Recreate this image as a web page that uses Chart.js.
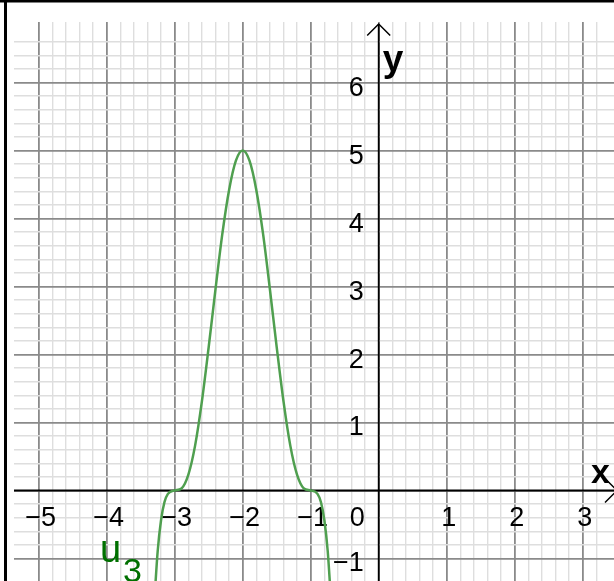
<!DOCTYPE html>
<html>
<head>
<meta charset="utf-8">
<script src="https://cdn.jsdelivr.net/npm/chart.js@4.4.1/dist/chart.umd.min.js"></script>
<style>
  html, body { margin: 0; padding: 0; background: #fff; }
  canvas { display: block; }
</style>
</head>
<body>
<canvas id="graph" width="614" height="581"></canvas>
<script>
// u3 sampled along its hump between the two flat zeros
const xValues = [-3.3, -3.25, -3.2, -3.15, -3.1, -3.0, -2.9, -2.8, -2.7, -2.6, -2.5, -2.4, -2.3, -2.2, -2.1,
                 -2.0, -1.9, -1.8, -1.7, -1.6, -1.5, -1.4, -1.3, -1.2, -1.1, -1.0, -0.9, -0.85, -0.8, -0.75, -0.7];
const u3Values = [-1.64, -0.89, -0.43, -0.17, -0.05, 0, 0.03, 0.23, 0.66, 1.31, 2.11, 2.96, 3.77, 4.42, 4.85,
                  5, 4.85, 4.42, 3.77, 2.96, 2.11, 1.31, 0.66, 0.23, 0.03, 0, -0.05, -0.17, -0.43, -0.89, -1.64];

const xTickLabels = [-5, -4, -3, -2, -1, 1, 2, 3];
const yTickLabels = [-1, 1, 2, 3, 4, 5, 6];

const FONT = "'Liberation Sans', Arial, sans-serif";

function fmt(v) {
    return v < 0 ? "\u2212" + Math.abs(v) : String(v);
}

function isStep(v, n) {
    return Math.abs(v * n - Math.round(v * n)) < 1e-6;
}

function gridColor(c) {
    const v = c.tick.value;
    if (isStep(v, 1)) return "#8a8a8a";
    if (isStep(v, 5)) return "#dedede";
    return "rgba(0,0,0,0)";
}

function gridWidth(c) {
    return isStep(c.tick.value, 1) ? 1.8 : 1.4;
}

// white page, black frame on the top and left
const frame = {
    id: "frame",
    beforeDraw(chart) {
        const ctx = chart.ctx;
        ctx.save();
        ctx.fillStyle = "#fff";
        ctx.fillRect(0, 0, chart.width, chart.height);
        ctx.fillStyle = "#000";
        ctx.fillRect(0, 0, chart.width, 2.5);
        ctx.fillRect(4, 0, 3, chart.height);
        ctx.restore();
    }
};

// axes through the origin, arrows, numbers
const axes = {
    id: "axes",
    beforeDatasetsDraw(chart) {
        const ctx = chart.ctx;
        const xs = chart.scales.x, ys = chart.scales.y;
        const x0 = xs.getPixelForValue(0);
        const y0 = ys.getPixelForValue(0);
        const xEnd = xs.right + 3;
        const yEnd = ys.top + 2;

        ctx.save();
        ctx.strokeStyle = "#000";
        ctx.lineWidth = 1.8;
        ctx.beginPath();
        ctx.moveTo(xs.left, y0);
        ctx.lineTo(xEnd, y0);
        ctx.moveTo(x0, ys.bottom);
        ctx.lineTo(x0, yEnd);
        ctx.stroke();

        ctx.lineWidth = 1.5;
        ctx.beginPath();
        ctx.moveTo(x0 - 11.5, yEnd + 11.5);
        ctx.lineTo(x0, yEnd);
        ctx.lineTo(x0 + 11.5, yEnd + 11.5);
        ctx.moveTo(xEnd - 12, y0 - 12);
        ctx.lineTo(xEnd, y0);
        ctx.lineTo(xEnd - 12, y0 + 12);
        ctx.stroke();

        ctx.fillStyle = "#000";
        ctx.font = "27px " + FONT;
        ctx.textBaseline = "alphabetic";
        ctx.textAlign = "center";
        xTickLabels.forEach(v => ctx.fillText(fmt(v), xs.getPixelForValue(v) + 2, y0 + 35.5));
        ctx.textAlign = "right";
        yTickLabels.forEach(v => ctx.fillText(fmt(v), x0 - 15, ys.getPixelForValue(v) + 13));
        ctx.fillText("0", x0 - 14, y0 + 35.5);

        ctx.font = "bold 34px " + FONT;
        ctx.textAlign = "left";
        ctx.fillText("x", xs.right - 23, y0 - 7.5);
        ctx.font = "bold 37px " + FONT;
        ctx.fillText("y", x0 + 4, ys.top + 49);
        ctx.restore();
    },
    afterDatasetsDraw(chart) {
        const ctx = chart.ctx;
        const xs = chart.scales.x, ys = chart.scales.y;
        ctx.save();
        ctx.fillStyle = "#007000";
        ctx.textBaseline = "alphabetic";
        ctx.textAlign = "left";
        ctx.font = "38px " + FONT;
        ctx.fillText("u", xs.getPixelForValue(-4.1), ys.getPixelForValue(-1.05));
        ctx.font = "34px " + FONT;
        ctx.fillText("3", xs.getPixelForValue(-3.76), ys.getPixelForValue(-1.35));
        ctx.restore();
    }
};

new Chart(document.getElementById("graph"), {
    type: "scatter",
    data: {
        datasets: [{
            label: "u3",
            data: xValues.map((x, i) => ({ x: x, y: u3Values[i] })),
            showLine: true,
            borderColor: "#4f9f4f",
            borderWidth: 2.5,
            pointRadius: 0,
            cubicInterpolationMode: "monotone"
        }]
    },
    options: {
        responsive: false,
        animation: false,
        layout: { padding: { left: 14, top: 22, right: 0, bottom: 0 } },
        plugins: { legend: { display: false }, tooltip: { enabled: false } },
        scales: {
            x: {
                type: "linear",
                min: -5.363, max: 3.46,
                ticks: { display: false, stepSize: 0.2 },
                border: { display: false },
                grid: { color: gridColor, lineWidth: gridWidth, drawTicks: false }
            },
            y: {
                type: "linear",
                min: -1.331, max: 6.89,
                ticks: { display: false, stepSize: 0.2 },
                border: { display: false },
                grid: { color: gridColor, lineWidth: gridWidth, drawTicks: false }
            }
        }
    },
    plugins: [frame, axes]
});
</script>
</body>
</html>
